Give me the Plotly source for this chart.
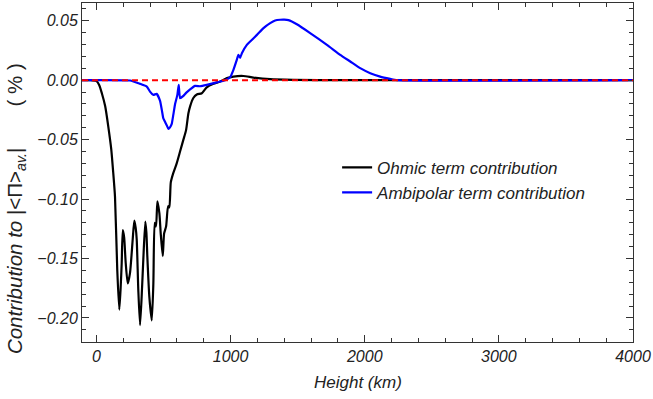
import plotly.graph_objects as go

# ---- data ----
ohm_h = [-110, -50, 0, 20, 40, 65, 88, 110, 125, 138, 155, 170, 180, 188, 196, 206, 218, 233, 250,
         270, 282, 292, 300, 312, 325, 340, 349, 364, 372, 379, 394, 412, 424, 434, 444, 454, 469,
         479, 494, 504, 519, 534, 543, 554, 573, 598, 623, 648, 668, 685, 698, 722, 748, 785, 822,
         872, 922, 972, 1021, 1095, 1170, 1295, 1466, 1800, 4000]
ohm_v = [0, 0, -0.0008, -0.004, -0.011, -0.022, -0.039, -0.058, -0.078, -0.098, -0.160, -0.193,
         -0.175, -0.154, -0.126, -0.132, -0.154, -0.171, -0.162, -0.134, -0.118, -0.124, -0.134,
         -0.177, -0.206, -0.174, -0.151, -0.119, -0.128, -0.148, -0.182, -0.202, -0.171, -0.120,
         -0.123, -0.102, -0.112, -0.129, -0.148, -0.129, -0.123, -0.106, -0.107, -0.086, -0.078,
         -0.070, -0.060, -0.050, -0.042, -0.028, -0.022, -0.015, -0.012, -0.011, -0.006, -0.003,
         -0.0012, 0.0017, 0.003, 0.0035, 0.0022, 0.0008, 0.0003, 0, 0]

amb_h = [-110, 250, 325, 375, 399, 424, 449, 474, 487, 498, 511, 524, 536, 548, 561, 573, 586, 603,
         613, 623, 648, 668, 698, 735, 772, 822, 897, 959, 996, 1021, 1046, 1058, 1071, 1084, 1121,
         1146, 1196, 1245, 1295, 1332, 1369, 1400, 1431, 1494, 1593, 1718, 1817, 1892, 1966, 2041,
         2115, 2190, 2240, 4000]
amb_v = [0, -0.0003, -0.0031, -0.0054, -0.0096, -0.0124, -0.0115, -0.0174, -0.025, -0.032, -0.035,
         -0.038, -0.041, -0.0397, -0.0368, -0.029, -0.020, -0.0124, -0.004, -0.0152, -0.0132,
         -0.0107, -0.0077, -0.0048, -0.0051, -0.0040, -0.0019, 0, 0.0024, 0.0087, 0.0171, 0.0213,
         0.0188, 0.0227, 0.0297, 0.0325, 0.0381, 0.0438, 0.048, 0.0502, 0.0508, 0.0509, 0.0505,
         0.047, 0.0396, 0.0297, 0.0213, 0.0157, 0.0101, 0.0059, 0.003, 0.0011, 0, 0]

x_ticks = [0, 1000, 2000, 3000, 4000]
y_ticks = [-0.20, -0.15, -0.10, -0.05, 0.00, 0.05]
y_ticktext = ["\u22120.20", "\u22120.15", "\u22120.10", "\u22120.05", "0.00", "0.05"]
names = ["Ohmic term contribution", "Ambipolar term contribution"]

FONT = "Liberation Sans, Arial, sans-serif"
AX = "#333333"

fig = go.Figure()
fig.add_trace(go.Scatter(x=ohm_h, y=ohm_v, mode="lines", name=names[0],
                         line=dict(color="black", width=2.2, shape="spline", smoothing=0.6)))
fig.add_trace(go.Scatter(x=amb_h, y=amb_v, mode="lines", name=names[1],
                         line=dict(color="#0000ff", width=2.2, shape="spline", smoothing=0.4)))
fig.add_hline(y=0, line=dict(color="red", width=2, dash="6px,4px"), layer="above")

axis_common = dict(showgrid=False, zeroline=False, showline=True, linecolor=AX, linewidth=1,
                   mirror="ticks", ticks="inside", ticklen=7, tickcolor=AX, tickwidth=1,
                   tickfont=dict(family=FONT, size=16, color="#222", style="italic"))

fig.update_xaxes(range=[-108, 4000], tickvals=x_ticks, ticktext=[str(v) for v in x_ticks],
                 minor=dict(dtick=200, tick0=0, ticks="inside", ticklen=4, tickcolor=AX),
                 **axis_common)
fig.update_yaxes(range=[-0.2202, 0.0649], tickvals=y_ticks, ticktext=y_ticktext,
                 minor=dict(dtick=0.01, tick0=0, ticks="inside", ticklen=4, tickcolor=AX),
                 **axis_common)

fig.add_annotation(text="Height (km)", xref="paper", yref="paper", x=0.5, y=-0.118,
                   xanchor="center", yanchor="middle", showarrow=False,
                   font=dict(family=FONT, size=17, color="#222", style="italic"))
fig.add_annotation(text="<i>Contribution to</i> |<Π><sub><i>av.</i></sub>|\u2003\u2003( % )",
                   xref="paper", yref="paper", x=-0.1198, y=0.395, textangle=-90,
                   xanchor="center", yanchor="middle", showarrow=False,
                   font=dict(family=FONT, size=20.5, color="#222"))

fig.update_layout(
    width=653, height=399,
    margin=dict(l=82, r=20, t=3, b=57),
    paper_bgcolor="white", plot_bgcolor="white",
    showlegend=True,
    legend=dict(x=0.463, y=0.567, xanchor="left", yanchor="top",
                bgcolor="rgba(0,0,0,0)", borderwidth=0,
                font=dict(family=FONT, size=17, color="#222", style="italic"),
                itemwidth=30, tracegroupgap=0),
)

fig.write_html("out.html")
